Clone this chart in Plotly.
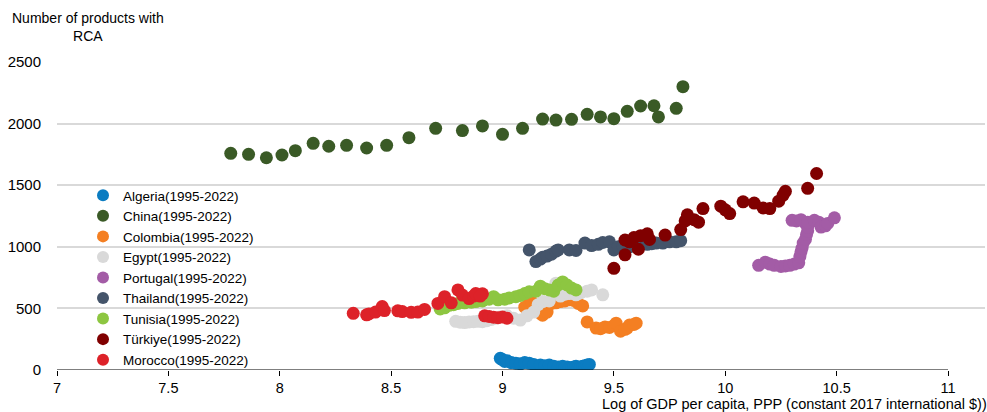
import plotly.graph_objects as go

# ---------------- data ----------------
series_names = ["Algeria(1995-2022)", "China(1995-2022)", "Colombia(1995-2022)",
                "Egypt(1995-2022)", "Portugal(1995-2022)", "Thailand(1995-2022)",
                "Tunisia(1995-2022)", "Türkiye(1995-2022)", "Morocco(1995-2022)"]

algeria_x = [8.99, 9.00, 9.01, 9.02, 9.04, 9.06, 9.08, 9.10, 9.12, 9.14, 9.17, 9.19, 9.21, 9.23,
             9.25, 9.27, 9.28, 9.29, 9.30, 9.31, 9.32, 9.33, 9.34, 9.35, 9.36, 9.37, 9.38, 9.39]
algeria_y = [95, 85, 70, 75, 60, 55, 50, 60, 55, 45, 40, 35, 40, 30,
             25, 30, 20, 25, 15, 20, 25, 30, 20, 25, 30, 35, 40, 45]

china_x = [7.78, 7.86, 7.94, 8.01, 8.07, 8.15, 8.22, 8.30, 8.39, 8.48, 8.58, 8.70, 8.82, 8.91,
           9.00, 9.09, 9.18, 9.24, 9.31, 9.38, 9.44, 9.50, 9.56, 9.62, 9.68, 9.70, 9.78, 9.81]
china_y = [1759, 1751, 1723, 1745, 1780, 1840, 1816, 1824, 1802, 1824, 1886, 1962, 1943, 1981,
           1913, 1962, 2037, 2029, 2035, 2075, 2054, 2040, 2100, 2143, 2145, 2054, 2124, 2300]

colombia_x = [9.10, 9.12, 9.13, 9.15, 9.17, 9.18, 9.20, 9.22, 9.24, 9.26, 9.28, 9.30, 9.32, 9.34,
              9.36, 9.38, 9.42, 9.44, 9.46, 9.48, 9.50, 9.51, 9.53, 9.55, 9.56, 9.57, 9.59, 9.60]
colombia_y = [510, 540, 555, 520, 460, 445, 470, 540, 545, 555, 560, 570, 565, 540,
              520, 390, 340, 335, 350, 345, 360, 380, 315, 330, 340, 365, 370, 380]

egypt_x = [8.79, 8.81, 8.83, 8.85, 8.87, 8.89, 8.91, 8.93, 8.95, 8.97, 8.99, 9.02, 9.05, 9.08,
           9.11, 9.14, 9.16, 9.18, 9.21, 9.24, 9.26, 9.28, 9.30, 9.33, 9.35, 9.38, 9.40, 9.45]
egypt_y = [395, 388, 385, 390, 392, 395, 392, 400, 410, 420, 430, 440, 420, 405,
           440, 470, 530, 555, 560, 705, 600, 615, 620, 610, 625, 640, 650, 610]

portugal_x = [10.15, 10.18, 10.20, 10.22, 10.25, 10.27, 10.29, 10.31, 10.33, 10.335, 10.34, 10.345,
              10.35, 10.36, 10.365, 10.37, 10.37, 10.36, 10.32, 10.30, 10.34, 10.37, 10.40, 10.42,
              10.43, 10.45, 10.46, 10.49]
portugal_y = [850, 875, 860, 850, 840, 845, 850, 860, 870, 920, 960, 990,
              1030, 1060, 1100, 1130, 1160, 1190, 1210, 1215, 1220, 1200, 1215, 1200,
              1160, 1170, 1190, 1235]

thailand_x = [9.12, 9.15, 9.17, 9.18, 9.20, 9.22, 9.24, 9.25, 9.30, 9.33, 9.37, 9.40, 9.43, 9.45,
              9.48, 9.50, 9.52, 9.54, 9.57, 9.60, 9.62, 9.65, 9.67, 9.69, 9.72, 9.75, 9.78, 9.80]
thailand_y = [975, 880, 900, 915, 925, 940, 965, 975, 975, 970, 1030, 1010, 1020, 1035,
              1040, 975, 1000, 1010, 1000, 1010, 1015, 1020, 1025, 1030, 1030, 1040, 1040, 1050]

tunisia_x = [8.72, 8.74, 8.76, 8.78, 8.80, 8.83, 8.86, 8.88, 8.91, 8.94, 8.96, 8.98, 9.01, 9.03,
             9.06, 9.08, 9.10, 9.12, 9.15, 9.17, 9.19, 9.21, 9.23, 9.25, 9.27, 9.29, 9.31, 9.33]
tunisia_y = [495, 505, 525, 530, 540, 545, 550, 555, 560, 575, 595, 570, 575, 585,
             595, 605, 620, 635, 640, 680, 660, 650, 640, 690, 715, 690, 665, 650]

turkiye_x = [9.50, 9.55, 9.55, 9.57, 9.59, 9.61, 9.62, 9.65, 9.66, 9.73, 9.80, 9.82, 9.83, 9.86,
             9.88, 9.90, 9.98, 10.00, 10.02, 10.08, 10.13, 10.17, 10.20, 10.24, 10.26, 10.27,
             10.37, 10.41]
turkiye_y = [825, 935, 1055, 1040, 1075, 980, 1090, 1105, 1060, 1095, 1140, 1210, 1260, 1220,
             1200, 1310, 1330, 1300, 1270, 1365, 1355, 1315, 1310, 1370, 1420, 1450,
             1475, 1595]

morocco_x = [8.33, 8.39, 8.40, 8.43, 8.46, 8.47, 8.53, 8.55, 8.59, 8.62, 8.65, 8.71, 8.74, 8.77,
             8.80, 8.82, 8.85, 8.87, 8.89, 8.91, 8.88, 8.90, 8.92, 8.94, 8.96, 8.98, 9.00, 9.02]
morocco_y = [460, 448, 455, 470, 515, 482, 480, 474, 468, 470, 492, 540, 595, 545,
             650, 608, 580, 600, 610, 618, 620, 600, 440, 435, 428, 425, 430, 420]

x_tick_vals = [7, 7.5, 8, 8.5, 9, 9.5, 10, 10.5, 11]
x_tick_text = ["7", "7.5", "8", "8.5", "9", "9.5", "10", "10.5", "11"]
y_tick_vals = [0, 500, 1000, 1500, 2000, 2500]
y_tick_text = ["0", "500", "1000", "1500", "2000", "2500"]

# ---------------- styling ----------------
colors = ["#0b7cc1", "#3a5a26", "#f47f22", "#d9d9d9", "#a35ca6",
          "#44546a", "#8dc641", "#800000", "#dd2229"]
FONT = "Liberation Sans, Arial, sans-serif"

xs = [algeria_x, china_x, colombia_x, egypt_x, portugal_x, thailand_x, tunisia_x, turkiye_x, morocco_x]
ys = [algeria_y, china_y, colombia_y, egypt_y, portugal_y, thailand_y, tunisia_y, turkiye_y, morocco_y]

fig = go.Figure()
for name, x, y, c in zip(series_names, xs, ys, colors):
    fig.add_trace(go.Scatter(x=x, y=y, mode="markers", name=name,
                             marker=dict(color=c, size=13, line=dict(width=0))))

W, H = 987, 412
ML, MR, MT, MB = 57, 2, 62, 42
x_min, x_max_tick = 7, 11
px_per_unit = 891 / 4.0
x_max = x_max_tick + (W - MR - 948) / px_per_unit
plot_w = W - ML - MR
plot_h = H - MT - MB

fig.update_layout(
    width=W, height=H,
    margin=dict(l=ML, r=MR, t=MT, b=MB, pad=0),
    paper_bgcolor="white", plot_bgcolor="white",
    font=dict(family=FONT, size=15, color="#000000"),
    showlegend=True,
    legend=dict(x=(83 - ML) / plot_w, y=(370 - 180) / plot_h, xanchor="left", yanchor="top",
                bgcolor="rgba(0,0,0,0)", borderwidth=0,
                font=dict(family=FONT, size=13.5, color="#000000"),
                itemsizing="constant", tracegroupgap=0),
    xaxis=dict(range=[x_min, x_max], tickvals=x_tick_vals, ticktext=x_tick_text,
               showgrid=False, zeroline=False, showline=False,
               ticks="outside", ticklen=5, tickcolor="#000000", tickwidth=1,
               ticklabelstandoff=0, tickfont=dict(size=14.5)),
    yaxis=dict(range=[0, 2500], tickvals=y_tick_vals, ticktext=y_tick_text,
               showgrid=True, gridcolor="#d9d9d9", gridwidth=1.5,
               zeroline=False, showline=False, ticks="",
               ticklabelstandoff=15, tickfont=dict(size=15)),
)

# x axis line only spanning 7..11
fig.add_shape(type="line", xref="x", yref="y", x0=x_min, x1=x_max_tick, y0=0, y1=0,
              line=dict(color="#000000", width=1.2), layer="above")

# axis titles
fig.add_annotation(xref="paper", yref="paper", x=(10 - ML) / plot_w, y=(370 - 8) / plot_h,
                   xanchor="left", yanchor="top", align="center", showarrow=False,
                   text="Number of products with<br>RCA", font=dict(size=14))
fig.add_annotation(xref="paper", yref="paper", x=(989 - ML) / plot_w, y=(370 - 404) / plot_h,
                   xanchor="right", yanchor="middle", showarrow=False,
                   text="Log of GDP per capita, PPP (constant 2017 international $))",
                   font=dict(size=14.5))

fig.write_html("out.html", config={"displayModeBar": False},
               post_script="document.body.style.margin='0';document.body.style.padding='0';")
